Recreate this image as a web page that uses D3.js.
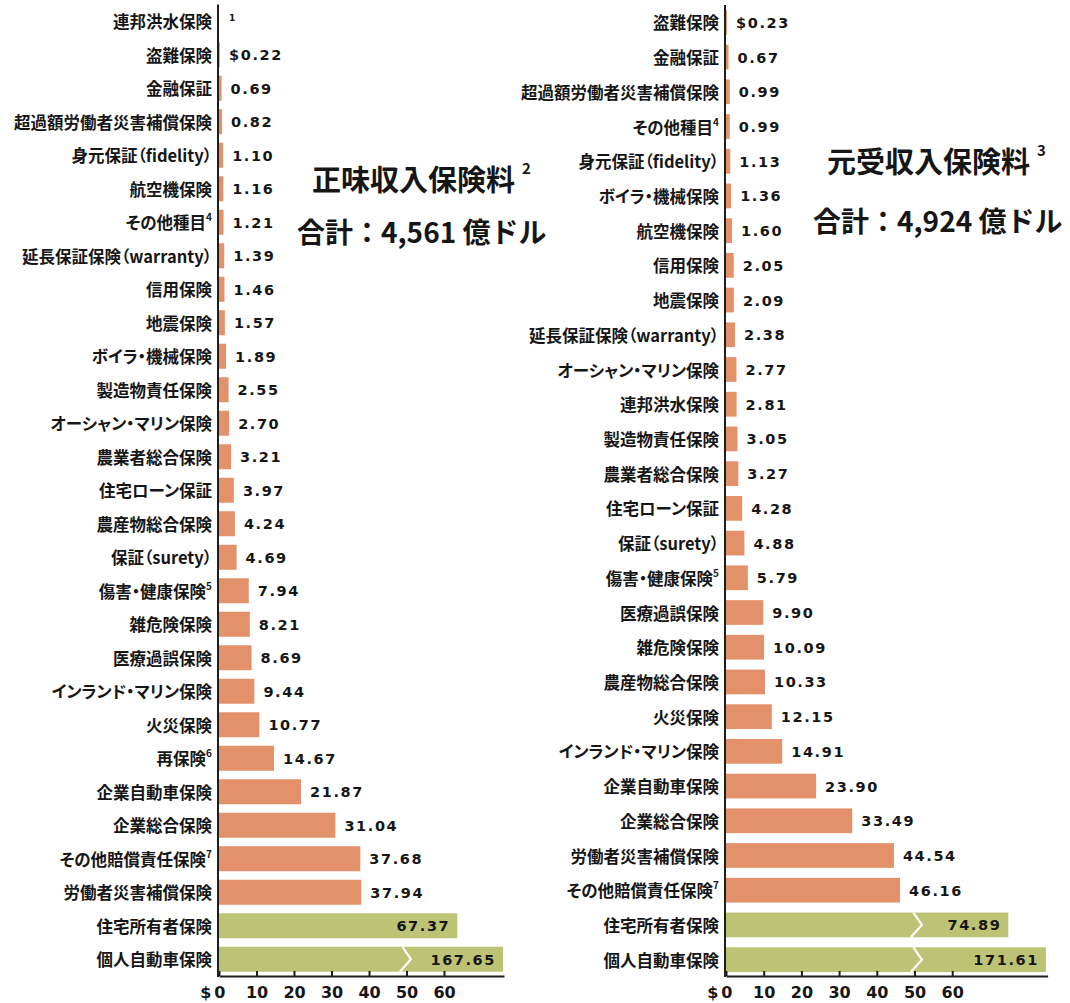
<!DOCTYPE html>
<html><head><meta charset="utf-8">
<script src="https://cdn.jsdelivr.net/npm/d3@7"></script>
<style>
html,body{margin:0;padding:0;background:#fff;}
svg{display:block;}
.jp{font-feature-settings:"palt";}
</style></head>
<body>
<svg id="chart" width="1070" height="1003"></svg>
<script>
// ---------- DATA ----------
// "^n" marks a footnote superscript in a category name
const netCategories = ["連邦洪水保険","盗難保険","金融保証","超過額労働者災害補償保険","身元保証（fidelity）","航空機保険","その他種目^4","延長保証保険（warranty）","信用保険","地震保険","ボイラ・機械保険","製造物責任保険","オーシャン・マリン保険","農業者総合保険","住宅ローン保証","農産物総合保険","保証（surety）","傷害・健康保険^5","雑危険保険","医療過誤保険","インランド・マリン保険","火災保険","再保険^6","企業自動車保険","企業総合保険","その他賠償責任保険^7","労働者災害補償保険","住宅所有者保険","個人自動車保険"];
const netValues = [null,0.22,0.69,0.82,1.10,1.16,1.21,1.39,1.46,1.57,1.89,2.55,2.70,3.21,3.97,4.24,4.69,7.94,8.21,8.69,9.44,10.77,14.67,21.87,31.04,37.68,37.94,67.37,167.65];
const netNotes = ["1"]; // footnote shown instead of a value for the first row

const directCategories = ["盗難保険","金融保証","超過額労働者災害補償保険","その他種目^4","身元保証（fidelity）","ボイラ・機械保険","航空機保険","信用保険","地震保険","延長保証保険（warranty）","オーシャン・マリン保険","連邦洪水保険","製造物責任保険","農業者総合保険","住宅ローン保証","保証（surety）","傷害・健康保険^5","医療過誤保険","雑危険保険","農産物総合保険","火災保険","インランド・マリン保険","企業自動車保険","企業総合保険","労働者災害補償保険","その他賠償責任保険^7","住宅所有者保険","個人自動車保険"];
const directValues = [0.23,0.67,0.99,0.99,1.13,1.36,1.60,2.05,2.09,2.38,2.77,2.81,3.05,3.27,4.28,4.88,5.79,9.90,10.09,10.33,12.15,14.91,23.90,33.49,44.54,46.16,74.89,171.61];

const personalLines = ["住宅所有者保険","個人自動車保険"];
const tickValues = [0,10,20,30,40,50,60];

const netTitle = ["正味収入保険料","2","合計：4,561 億ドル"];
const directTitle = ["元受収入保険料","3","合計：4,924 億ドル"];

// ---------- STYLE ----------
const ORANGE = "#E3916A", GREEN = "#BDC374", INK = "#161616", AXIS = "#1e1e1e";
const NUMFONT = "'DejaVu Sans', sans-serif";
const JPFONT = "'Noto Sans CJK JP', 'Noto Sans', sans-serif";

const svg = d3.select("#chart");

function panel(cats, vals, cfg) {
  const g = svg.append("g");
  // piecewise scale: linear up to the break, compressed beyond
  const x = d3.scaleLinear().domain(cfg.dom).range(cfg.rng);
  const y = d3.scaleBand().domain(d3.range(cats.length)).range(cfg.yr)
              .paddingInner(cfg.pad).paddingOuter(cfg.pad / 2);
  const bw = y.bandwidth();
  const x0 = x(0);
  const firstIdx = vals.findIndex(v => v != null);

  // bars
  g.selectAll("rect.bar").data(vals.map((v, i) => ({v, i})).filter(d => d.v != null))
    .enter().append("rect").attr("class", "bar")
    .attr("x", x0).attr("y", d => y(d.i))
    .attr("width", d => Math.max(0.8, x(d.v) - x0)).attr("height", bw)
    .attr("fill", d => personalLines.includes(cats[d.i].split("^")[0]) ? GREEN : ORANGE);

  // break chevrons
  vals.forEach((v, i) => {
    if (v != null && v > cfg.chevronMin) {
      const cx = x(cfg.breakAt);
      g.append("polyline")
        .attr("points", [[cx + 1.5, y(i)], [cx + 10, y(i) + bw / 2], [cx - 1, y(i) + bw]].map(p => p.join(",")).join(" "))
        .attr("fill", "none").attr("stroke", "#fff").attr("stroke-width", 2.2);
    }
  });

  // value labels
  vals.forEach((v, i) => {
    const cy = y(i) + bw / 2 + 0.5;
    if (v == null) {
      g.append("text").attr("x", x0 + 10).attr("y", cy - 4)
        .attr("font-family", NUMFONT).attr("font-weight", "bold").attr("font-size", 9)
        .attr("dominant-baseline", "central").attr("fill", INK).text(cfg.note || "");
      return;
    }
    const txt = (i === firstIdx ? "$" : "") + v.toFixed(2);
    const inside = v > cfg.insideMin;
    g.append("text")
      .attr("x", inside ? x(v) - 7 : Math.max(x(v), x0 + 1) + 9)
      .attr("y", cy)
      .attr("text-anchor", inside ? "end" : "start")
      .attr("dominant-baseline", "central")
      .attr("font-family", NUMFONT).attr("font-weight", "bold").attr("font-size", 14.5)
      .attr("letter-spacing", "1.6px").attr("fill", INK).text(txt);
  });

  // category labels
  cats.forEach((c, i) => {
    const [name, sup] = c.split("^");
    const t = g.append("text").attr("class", "jp").attr("x", x0 - 7).attr("y", y(i) + bw / 2)
      .attr("text-anchor", "end").attr("dominant-baseline", "central")
      .attr("font-family", JPFONT).attr("font-weight", "bold").attr("font-size", 16.5)
      .attr("fill", INK);
    t.append("tspan").text(name);
    if (sup) t.append("tspan").attr("font-size", 10).attr("dy", -6).text(sup);
  });

  // vertical axis line
  g.append("line").attr("x1", x0 - 1).attr("x2", x0 - 1)
    .attr("y1", cfg.yr[0]).attr("y2", cfg.axisY + 1)
    .attr("stroke", AXIS).attr("stroke-width", 2);

  // bottom axis
  const ax = g.append("g").attr("transform", `translate(0,${cfg.axisY})`)
    .call(d3.axisBottom(x).tickValues(tickValues).tickSize(-5).tickSizeOuter(0).tickPadding(11)
      .tickFormat(d => d === 0 ? "$0" : d));
  ax.select(".domain").attr("stroke", AXIS).attr("stroke-width", 2);
  ax.selectAll(".tick line").attr("stroke", AXIS).attr("stroke-width", 2);
  ax.selectAll(".tick text").attr("font-family", NUMFONT).attr("font-weight", "bold")
    .attr("font-size", 16).attr("fill", INK);
  ax.selectAll(".tick").filter(d => d === 0).select("text").attr("text-anchor", "end").attr("x", 6)
    .attr("letter-spacing", "3px").attr("dx", 3);

  // title
  const tt = cfg.title;
  const t1 = g.append("text").attr("x", cfg.tx1).attr("y", cfg.ty1)
    .attr("dominant-baseline", "central").attr("font-family", JPFONT)
    .attr("font-weight", "bold").attr("font-size", 29).attr("fill", INK);
  t1.append("tspan").text(tt[0]);
  t1.append("tspan").attr("font-size", 15).attr("dx", 7).attr("dy", -11).text(tt[1]);
  g.append("text").attr("x", cfg.tx2).attr("y", cfg.ty2)
    .attr("dominant-baseline", "central").attr("font-family", JPFONT)
    .attr("font-weight", "bold").attr("font-size", 28).attr("fill", INK).text(tt[2]);
}

panel(netCategories, netValues, {
  dom: [0, 60, 70, 170], rng: [219, 444, 462, 504],
  yr: [4.5, 976], pad: 0.254, axisY: 976,
  breakAt: 48.5, chevronMin: 70, insideMin: 60, note: netNotes[0],
  title: netTitle, tx1: 312, ty1: 178, tx2: 297, ty2: 231
});

panel(directCategories, directValues, {
  dom: [0, 80, 180], rng: [726, 1027.6, 1047.6],
  yr: [5, 977], pad: 0.288, axisY: 976,
  breakAt: 49.3, chevronMin: 70, insideMin: 60,
  title: directTitle, tx1: 827, ty1: 160, tx2: 813, ty2: 220
});
</script>
</body></html>
